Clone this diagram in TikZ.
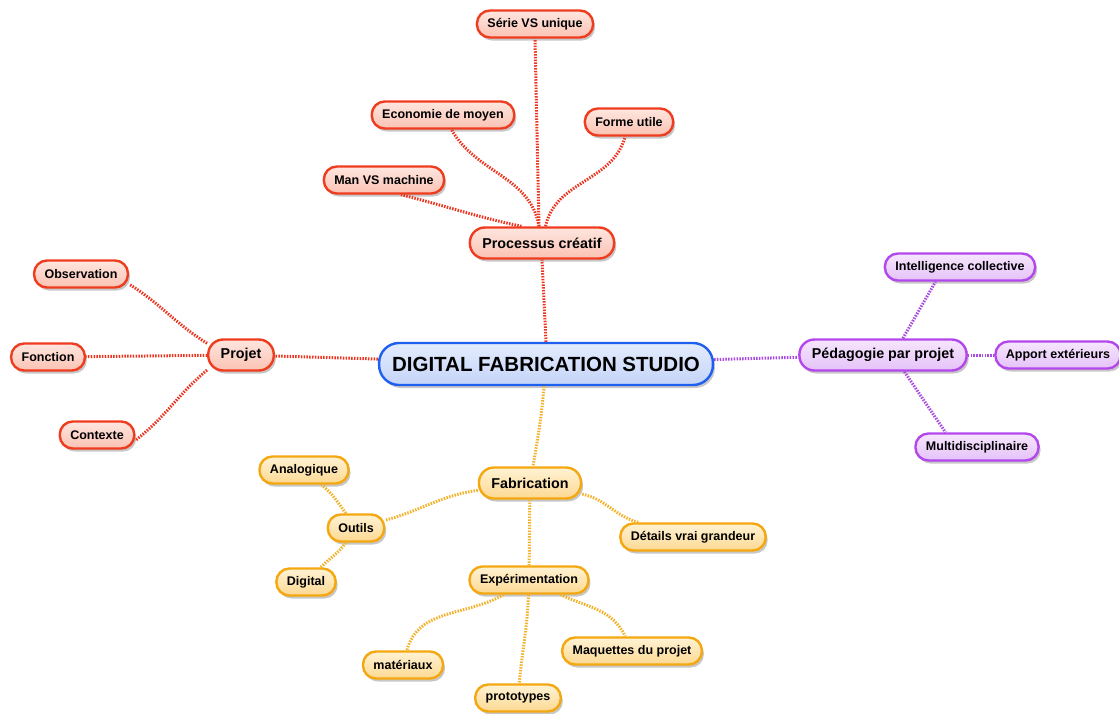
\documentclass[tikz,border=0pt]{standalone}
\usepackage{fontspec}
\setmainfont{Liberation Sans}
\usetikzlibrary{shadows}
\definecolor{redline}{HTML}{F03C1E}
\definecolor{redtop}{HTML}{FEE6DF}
\definecolor{redbot}{HTML}{FBC2B3}
\definecolor{reddot}{HTML}{EC3520}
\definecolor{orangeline}{HTML}{F4A70F}
\definecolor{orangetop}{HTML}{FFF2D3}
\definecolor{orangebot}{HTML}{FCD993}
\definecolor{orangedot}{HTML}{F3B22A}
\definecolor{purpleline}{HTML}{B347EC}
\definecolor{purpletop}{HTML}{F6E6FD}
\definecolor{purplebot}{HTML}{E5C2F8}
\definecolor{purpledot}{HTML}{A94BE0}
\definecolor{blueline}{HTML}{1F5FF0}
\definecolor{bluetop}{HTML}{E4ECFD}
\definecolor{bluebot}{HTML}{C4D4F8}
\tikzset{
  box/.style={draw, rectangle, rounded corners=13pt, line width=2.4pt,
    minimum height=27pt, inner xsep=10.5pt, inner ysep=2pt,
    font=\bfseries\fontsize{12.5}{14}\selectfont,
    drop shadow={shadow xshift=2pt, shadow yshift=-3pt, opacity=0.22, fill=black}},
  bigbox/.style={box, rounded corners=15pt, minimum height=31pt, inner xsep=12.5pt,
    font=\bfseries\fontsize{14.3}{16}\selectfont},
  redbox/.style={draw=redline, top color=redtop, bottom color=redbot},
  orangebox/.style={draw=orangeline, top color=orangetop, bottom color=orangebot},
  purplebox/.style={draw=purpleline, top color=purpletop, bottom color=purplebot},
  centerbox/.style={box, rounded corners=20pt, minimum height=42pt, inner xsep=13pt,
    draw=blueline, top color=bluetop, bottom color=bluebot,
    font=\bfseries\fontsize{20.5}{23}\selectfont},
  link/.style={line width=3pt, dash pattern=on 1.5pt off 1.3pt},
  redlink/.style={link, draw=reddot},
  orangelink/.style={link, draw=orangedot},
  purplelink/.style={link, draw=purpledot},
}
\begin{document}
\begin{tikzpicture}[x=1pt, y=1pt]
\useasboundingbox (0,0) rectangle (1119,-713);
% centre
\node (studio) [centerbox] at (546,-364) {DIGITAL FABRICATION STUDIO};
% processus creatif
\node (processus) [bigbox, redbox] at (542,-243) {Processus créatif};
\node (serie) [box, redbox] at (535,-24) {Série VS unique};
\node (economie) [box, redbox] at (443,-115) {Economie de moyen};
\node (forme) [box, redbox] at (629,-122) {Forme utile};
\node (machine) [box, redbox] at (384,-180) {Man VS machine};
% projet
\node (projet) [bigbox, redbox] at (241,-355) {Projet};
\node (observation) [box, redbox] at (81,-274) {Observation};
\node (fonction) [box, redbox] at (48,-357) {Fonction};
\node (contexte) [box, redbox] at (97,-435) {Contexte};
% pedagogie
\node (pedagogie) [bigbox, purplebox] at (883,-355) {Pédagogie par projet};
\node (intelligence) [box, purplebox] at (960,-267) {Intelligence collective};
\node (apport) [box, purplebox] at (1058,-355) {Apport extérieurs};
\node (multi) [box, purplebox] at (977,-447) {Multidisciplinaire};
% fabrication
\node (fabrication) [bigbox, orangebox] at (530,-483) {Fabrication};
\node (outils) [box, orangebox] at (356,-528) {Outils};
\node (analogique) [box, orangebox] at (304,-470) {Analogique};
\node (digital) [box, orangebox] at (306,-582) {Digital};
\node (details) [box, orangebox] at (693,-537) {Détails vrai grandeur};
\node (experimentation) [box, orangebox] at (529,-580) {Expérimentation};
\node (materiaux) [box, orangebox] at (403,-665) {matériaux};
\node (prototypes) [box, orangebox] at (518,-698) {prototypes};
\node (maquettes) [box, orangebox] at (632,-651) {Maquettes du projet};
% liens rouges
\draw [redlink] (studio.north) -- (processus.south);
\draw [redlink] (processus.north) ++(-3,0) -- (serie.south);
\draw [redlink] (processus) to[out=100, in=-60] (economie);
\draw [redlink] (processus) to[out=78, in=-105] (forme);
\draw [redlink] (processus.141) to[out=168, in=-14] (machine.-41);
\draw [redlink] (studio) -- (projet);
\draw [redlink] (projet.161) to[out=148, in=-32] (observation.-12);
\draw [redlink] (projet) -- (fonction);
\draw [redlink] (projet.204) to[out=-140, in=38] (contexte.-8);
% liens violets
\draw [purplelink] (studio) -- (pedagogie);
\draw [purplelink] (pedagogie.40) -- (intelligence.211);
\draw [purplelink] (pedagogie) -- (apport);
\draw [purplelink] (pedagogie.-38) -- (multi.155);
% liens orange
\draw [orangelink] (studio) to[out=-95, in=80] (fabrication);
\draw [orangelink] (fabrication) to[out=188, in=15] (outils);
\draw [orangelink] (outils) to[out=125, in=-40] (analogique);
\draw [orangelink] (outils) to[out=-125, in=45] (digital);
\draw [orangelink] (fabrication) to[out=-12, in=165] (details);
\draw [orangelink] (fabrication) -- (experimentation);
\draw [orangelink] (experimentation) to[out=-150, in=75] (materiaux);
\draw [orangelink] (experimentation) to[out=-92, in=85] (prototypes);
\draw [orangelink] (experimentation) to[out=-25, in=115] (maquettes);
\end{tikzpicture}
\end{document}
